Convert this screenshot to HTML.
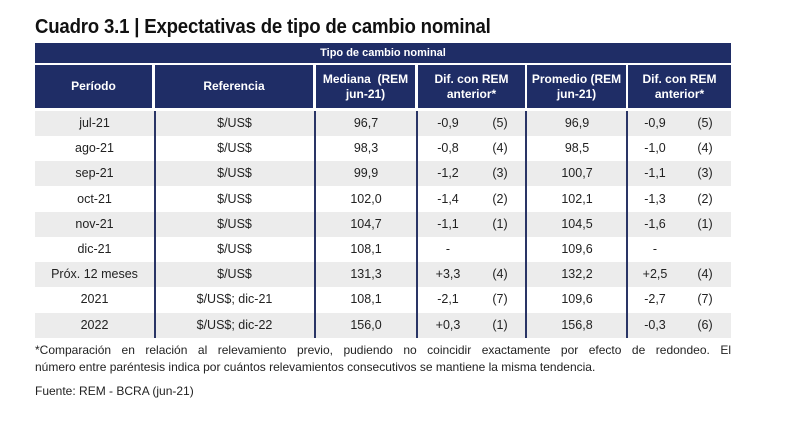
<!DOCTYPE html>
<html><head><meta charset="utf-8"><style>
body{margin:0;width:800px;height:428px;background:#fff;font-family:"Liberation Sans",sans-serif;position:relative;overflow:hidden}
.t{position:absolute;left:35px;top:16px;font-size:20px;font-weight:bold;color:#111;letter-spacing:-0.2px;transform:scaleX(0.93);transform-origin:left;white-space:nowrap}
.band{position:absolute;left:35px;top:43px;width:696px;height:20px;background:#1f2d66;color:#fff;font-size:11px;font-weight:bold;text-align:center;line-height:20px}
.hd{position:absolute;top:65px;height:43px;background:#1f2d66;color:#fff;font-size:12px;font-weight:bold;display:flex;align-items:center;justify-content:center;text-align:center;line-height:15px}
.row{position:absolute;left:35px;width:696px;height:25px}
.c{position:absolute;top:0;height:25px;line-height:25px;font-size:12.5px;color:#222;text-align:center}
.vl{position:absolute;top:111px;height:227px;width:2px;background:#2a3566}
.note{position:absolute;left:35px;font-size:12px;color:#222;white-space:nowrap}
.j{width:696px;text-align:justify;text-align-last:justify;white-space:normal}
</style></head><body>
<div class="t">Cuadro 3.1 | Expectativas de tipo de cambio nominal</div>
<div class="band">Tipo de cambio nominal</div>
<div class="hd" style="left:35px;width:117px">Período</div>
<div class="hd" style="left:155px;width:158px">Referencia</div>
<div class="hd" style="left:316px;width:99px">Mediana&nbsp; (REM<br>jun-21)</div>
<div class="hd" style="left:418px;width:107px">Dif. con REM<br>anterior*</div>
<div class="hd" style="left:527px;width:99px">Promedio (REM<br>jun-21)</div>
<div class="hd" style="left:628px;width:103px">Dif. con REM<br>anterior*</div>
<div id="body"></div>
<div class="vl" style="left:154px"></div>
<div class="vl" style="left:314px"></div>
<div class="vl" style="left:416px"></div>
<div class="vl" style="left:525px"></div>
<div class="vl" style="left:626px"></div>
<div class="note j" style="top:343px">*Comparación en relación al relevamiento previo, pudiendo no coincidir exactamente por efecto de redondeo. El</div>
<div class="note" style="top:360px">número entre paréntesis indica por cuántos relevamientos consecutivos se mantiene la misma tendencia.</div>
<div class="note" style="top:384px">Fuente: REM - BCRA (jun-21)</div>
<script>
const periods=["jul-21","ago-21","sep-21","oct-21","nov-21","dic-21","Próx. 12 meses","2021","2022"];
const refs=["$/US$","$/US$","$/US$","$/US$","$/US$","$/US$","$/US$","$/US$; dic-21","$/US$; dic-22"];
const medianas=["96,7","98,3","99,9","102,0","104,7","108,1","131,3","108,1","156,0"];
const difMed=["-0,9","-0,8","-1,2","-1,4","-1,1","-","+3,3","-2,1","+0,3"];
const difMedN=["(5)","(4)","(3)","(2)","(1)","","(4)","(7)","(1)"];
const promedios=["96,9","98,5","100,7","102,1","104,5","109,6","132,2","109,6","156,8"];
const difProm=["-0,9","-1,0","-1,1","-1,3","-1,6","-","+2,5","-2,7","-0,3"];
const difPromN=["(5)","(4)","(3)","(2)","(1)","","(4)","(7)","(6)"];
const body=document.getElementById('body');
function cell(row,left,w,txt,name){const d=document.createElement('div');d.className='c';d.style.left=left+'px';d.style.width=w+'px';d.textContent=txt;


row.appendChild(d);}
periods.forEach((p,i)=>{const r=document.createElement('div');r.className='row';r.style.top=(111+i*25.2)+'px';r.style.background=i%2==0?'#ececec':'#fff';


cell(r,0,119,p,'period-cell');cell(r,120,159,refs[i],'reference-cell');cell(r,281,100,medianas[i],'median-cell');
cell(r,393,40,difMed[i],'median-diff-cell');cell(r,445,40,difMedN[i],'median-streak-cell');
cell(r,492,100,promedios[i],'average-cell');cell(r,600,40,difProm[i],'average-diff-cell');cell(r,650,40,difPromN[i],'average-streak-cell');
body.appendChild(r);});
</script>
</body></html>
